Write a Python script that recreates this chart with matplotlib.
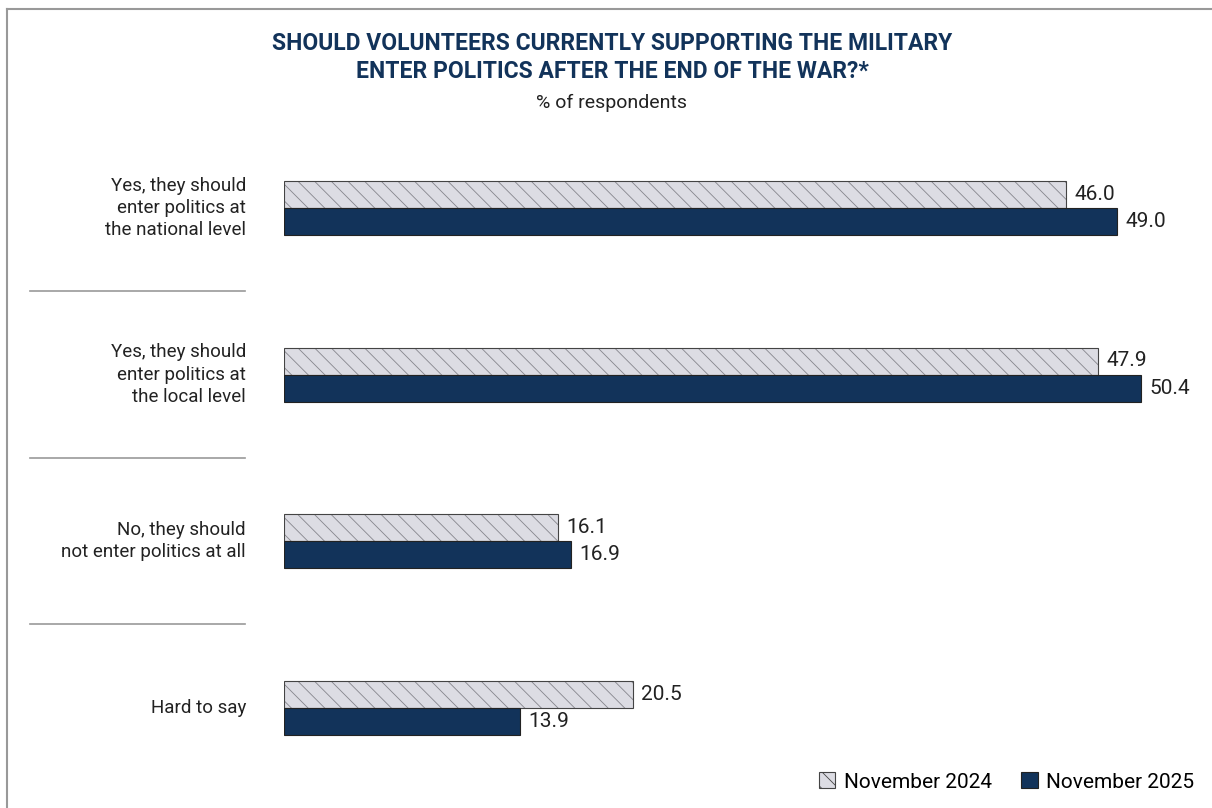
import numpy as np
import matplotlib
matplotlib.use("Agg")
import matplotlib.pyplot as plt
import matplotlib.transforms as mtransforms
from matplotlib.lines import Line2D
from matplotlib.patches import Patch

plt.rcParams['font.family'] = ['Roboto', 'DejaVu Sans']
plt.rcParams['hatch.linewidth'] = 0.6
plt.rcParams['hatch.color'] = '#85858c'

# --- data ---
categories = [
    "Yes, they should\nenter politics at\nthe national level",
    "Yes, they should\nenter politics at\nthe local level",
    "No, they should\nnot enter politics at all",
    "Hard to say",
]
nov_2024 = [46.0, 47.9, 16.1, 20.5]
nov_2025 = [49.0, 50.4, 16.9, 13.9]
series_labels = ["November 2024", "November 2025"]

NAVY = "#12335a"
LIGHT = "#dcdce3"
W, H = 1212, 808

fig = plt.figure(figsize=(W / 100, H / 100), dpi=100)
fig.patch.set_facecolor("white")

# axes placed in pixel terms: x=0 at 284px, 17px per unit
ax_left, ax_right = 284, 1212
ax_top, ax_bottom = 125, 790
ax = fig.add_axes([ax_left / W, 1 - ax_bottom / H, (ax_right - ax_left) / W, (ax_bottom - ax_top) / H])
ax.set_xlim(0, (ax_right - ax_left) / 17.0)
gap = 166.5
ax.set_ylim((ax_bottom - 208) / gap, (ax_top - 208) / gap)
ax.axis("off")

y = np.arange(len(categories))
bh = 27 / gap
ax.barh(y - bh / 2, nov_2024, height=bh, color=LIGHT, edgecolor="#444444",
        hatch="\\\\", linewidth=0.8)
for b in ax.patches:
    b._hatch_color = matplotlib.colors.to_rgba("#85858c")
ax.barh(y + bh / 2, nov_2025, height=bh, color=NAVY, edgecolor="#222222", linewidth=0.8)

for i in range(len(categories)):
    ax.text(nov_2024[i] + 0.5, y[i] - bh / 2, f"{nov_2024[i]:.1f}", va="center", ha="left",
            fontsize=15, color="#222222")
    ax.text(nov_2025[i] + 0.5, y[i] + bh / 2, f"{nov_2025[i]:.1f}", va="center", ha="left",
            fontsize=15, color="#222222")

# category labels and separators
trans = mtransforms.blended_transform_factory(fig.transFigure, ax.transData)
for i, cat in enumerate(categories):
    ax.text(246 / W, y[i], cat, transform=trans, ha="right", va="center",
            fontsize=13.5, color="#222222", linespacing=1.3)
for i in range(len(categories) - 1):
    ax.add_line(Line2D([30 / W, 245 / W], [i + 0.5, i + 0.5], transform=trans,
                       color="#999999", lw=1.2, clip_on=False))

# title
fig.text(612 / W, 1 - 44 / H, "SHOULD VOLUNTEERS CURRENTLY SUPPORTING THE MILITARY",
         ha="center", va="center", fontsize=16.5, fontweight="bold", color=NAVY)
fig.text(612 / W, 1 - 72 / H, "ENTER POLITICS AFTER THE END OF THE WAR?*",
         ha="center", va="center", fontsize=16.5, fontweight="bold", color=NAVY)
fig.text(612 / W, 1 - 103 / H, "% of respondents", ha="center", va="center",
         fontsize=14, color="#222222")

# legend
handles = [
    Patch(facecolor=LIGHT, edgecolor="#444444", hatch="\\\\", linewidth=0.8),
    Patch(facecolor=NAVY, edgecolor="#222222", linewidth=0.8),
]
fig.legend(handles, series_labels, loc="center right", bbox_to_anchor=(1194 / W, 1 - 782 / H),
           ncol=2, frameon=False, fontsize=15, handlelength=0.8, handleheight=0.8,
           handletextpad=0.4, columnspacing=1.4, borderaxespad=0, borderpad=0)

# frame lines (top and left)
fig.add_artist(Line2D([7 / W, 1], [1 - 9 / H, 1 - 9 / H], transform=fig.transFigure,
                      color="#999999", lw=1.5))
fig.add_artist(Line2D([7 / W, 7 / W], [0, 1 - 9 / H], transform=fig.transFigure,
                      color="#999999", lw=1.5))

fig.savefig("out.png", dpi=100, facecolor="white")
